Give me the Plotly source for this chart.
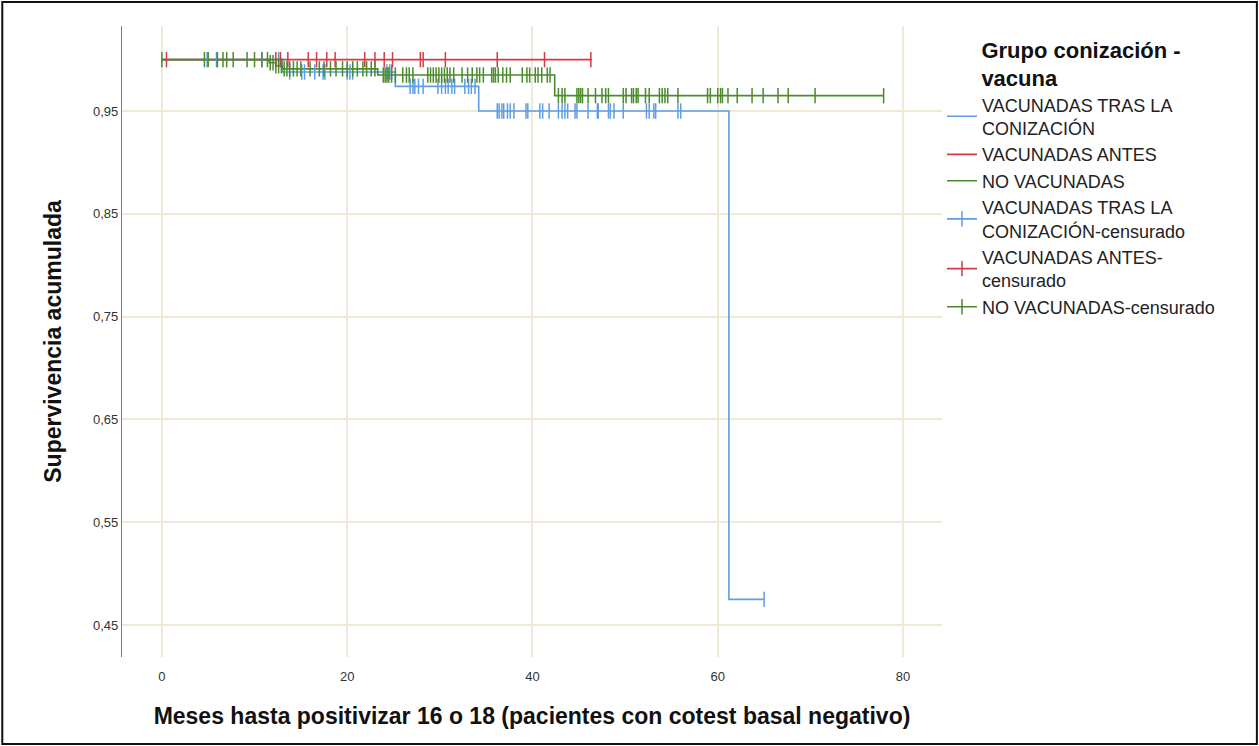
import plotly.graph_objects as go

# Kaplan-Meier step curves: event times (months) and cumulative survival
groups = ["VACUNADAS TRAS LA<br>CONIZACIÓN", "VACUNADAS ANTES", "NO VACUNADAS"]
censor_names = ["VACUNADAS TRAS LA<br>CONIZACIÓN-censurado", "VACUNADAS ANTES-<br>censurado",
                "NO VACUNADAS-censurado"]
colors = ["#5f9de3", "#d23a45", "#4a8b2c"]

tras_times = [0.0, 13.0, 25.2, 34.2, 61.2, 65.0]
tras_surv = [1.0, 0.988, 0.974, 0.95, 0.475, 0.475]

antes_times = [0.0, 46.4]
antes_surv = [1.0, 1.0]

no_vac_times = [0.0, 11.6, 12.3, 13.0, 23.3, 42.4, 77.9]
no_vac_surv = [1.0, 0.997, 0.994, 0.991, 0.985, 0.965, 0.965]

# Censored observations (months)
tras_censor = [4.9, 5.9, 10.8, 12.6, 13.8, 15.1, 15.4, 16.5, 17.4, 17.6, 20.0, 20.3, 20.6,
               24.3, 24.6, 24.8, 26.8, 27.1, 27.3, 27.7, 28.2, 29.8, 30.2, 30.6, 30.9, 31.3,
               31.6, 32.7, 33.1, 33.4, 33.8, 36.2, 36.4, 36.7, 36.9, 37.3, 37.6, 38.0, 39.3,
               39.5, 40.8, 41.1, 41.8, 42.8, 43.2, 43.5, 43.8, 44.6, 44.8, 46.0, 47.0, 47.1,
               48.2, 48.4, 48.8, 49.8, 52.3, 52.6, 53.1, 53.3, 55.7, 56.0, 65.0]
antes_censor = [0.5, 12.3, 12.8, 13.6, 15.8, 16.7, 17.8, 18.7, 21.9, 23.0, 24.0, 24.9, 27.9,
                28.2, 30.6, 36.2, 41.3, 46.3]
no_vac_censor = [0.0, 4.6, 5.0, 6.0, 6.6, 7.0, 7.7, 9.2, 10.0, 10.8, 11.4, 11.7, 12.0, 12.3,
                 12.6, 12.9, 13.2, 13.5, 13.8, 14.2, 14.6, 15.0, 16.0, 17.0, 17.5, 18.2, 18.8,
                 19.5, 20.0, 20.6, 21.1, 21.7, 22.1, 22.6, 23.0, 23.9, 24.1, 24.3, 24.5, 24.8,
                 25.2, 26.0, 26.4, 26.7, 27.1, 28.7, 29.0, 29.3, 29.6, 29.9, 30.2, 30.5, 30.8,
                 31.1, 31.5, 32.4, 33.0, 33.5, 34.0, 34.3, 34.7, 35.6, 35.8, 36.0, 36.3, 36.8,
                 37.2, 37.6, 38.9, 39.4, 39.7, 40.3, 40.6, 41.0, 41.6, 41.9, 42.8, 43.2, 43.5,
                 44.8, 45.0, 45.2, 45.4, 46.0, 46.8, 47.5, 47.9, 48.2, 49.8, 50.1, 50.7, 50.9,
                 51.2, 51.4, 52.2, 52.6, 53.7, 54.0, 54.3, 54.6, 55.7, 58.9, 59.2, 60.0, 60.3,
                 60.5, 61.1, 62.1, 63.7, 64.9, 66.5, 67.6, 70.5, 77.9]

x_ticks = [0, 20, 40, 60, 80]
y_ticks = [0.45, 0.55, 0.65, 0.75, 0.85, 0.95]
y_tick_labels = ["0,45", "0,55", "0,65", "0,75", "0,85", "0,95"]


def survival_at(times, surv, t):
    value = surv[0]
    for ti, si in zip(times, surv):
        if ti <= t:
            value = si
    return value


curves = [(tras_times, tras_surv, tras_censor),
          (antes_times, antes_surv, antes_censor),
          (no_vac_times, no_vac_surv, no_vac_censor)]

fig = go.Figure()

for (times, surv, _), name, color in zip(curves, groups, colors):
    fig.add_trace(go.Scatter(x=times, y=surv, mode="lines", line_shape="hv",
                             line=dict(color=color, width=1.6), name=name))

for (times, surv, cens), name, color in zip(curves, censor_names, colors):
    # isolated points separated by gaps: only the tick markers show, legend keeps a line
    xs, ys = [], []
    for t in cens:
        xs += [t, None]
        ys += [survival_at(times, surv, t), None]
    fig.add_trace(go.Scatter(x=xs, y=ys, mode="lines+markers", connectgaps=False,
                             line=dict(color=color, width=1.6),
                             marker=dict(symbol="line-ns", size=11,
                                         line=dict(color=color, width=1.5)),
                             name=name))

grid_color = "#F1E9D8"
fig.update_layout(
    width=1259, height=746,
    margin=dict(l=122, r=317, t=26, b=89),
    paper_bgcolor="white", plot_bgcolor="white",
    font=dict(family="Liberation Sans, Arial, sans-serif", color="#222222"),
    showlegend=True,
    legend=dict(
        x=1.0, xanchor="left", y=0.995, yanchor="top",
        font=dict(size=18, color="#222222"),
        title=dict(text="<b>Grupo conización -<br>vacuna</b>", side="top center",
                   font=dict(size=22, color="#111111")),
        tracegroupgap=0, itemwidth=30, bgcolor="rgba(0,0,0,0)",
    ),
    xaxis=dict(
        range=[-4.3, 84.2], tickvals=x_ticks, ticktext=[str(v) for v in x_ticks],
        showgrid=True, gridcolor=grid_color, gridwidth=1.5, zeroline=False,
        showline=False, ticks="", ticklabelstandoff=10,
        tickfont=dict(size=13, color="#333333"),
        title=dict(text="<b>Meses hasta positivizar 16 o 18 (pacientes con cotest basal negativo)</b>",
                   font=dict(size=23, color="#111111"), standoff=24),
    ),
    yaxis=dict(
        range=[0.4189, 1.0327], tickvals=y_ticks, ticktext=y_tick_labels,
        showgrid=True, gridcolor=grid_color, gridwidth=1.5, zeroline=False,
        showline=True, linecolor="#7a7a7a", linewidth=1.2, ticks="",
        tickfont=dict(size=13, color="#333333"),
        title=dict(text="<b>Supervivencia acumulada</b>",
                   font=dict(size=23, color="#111111"), standoff=24),
    ),
    shapes=[dict(type="rect", xref="paper", yref="paper",
                 x0=-0.146, x1=1.384, y0=-0.138, y1=1.038,
                 line=dict(color="#111111", width=2), fillcolor="rgba(0,0,0,0)",
                 layer="below")],
)

fig.write_html("out.html")
